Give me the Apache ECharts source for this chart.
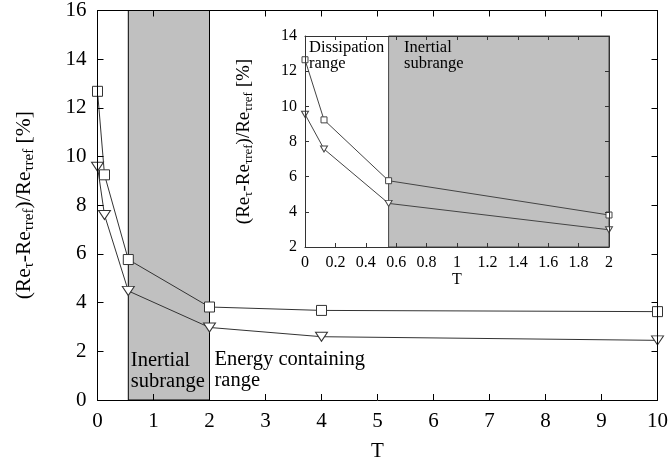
<!DOCTYPE html>
<html>
<head>
<meta charset="utf-8">
<script src="https://cdn.jsdelivr.net/npm/echarts@6/dist/echarts.min.js"></script>
<style>html,body{margin:0;padding:0;background:#fff}#c{width:671px;height:468px}</style>
</head>
<body>
<div id="c"></div>
<script>
// data
const T = [0, 0.125, 0.55, 2, 4, 10];
const squareVals = [12.68, 9.25, 5.77, 3.82, 3.68, 3.63];
const triangleVals = [9.58, 7.6, 4.48, 2.98, 2.6, 2.45];
const insetT = [0, 0.125, 0.55, 2];
const insetSquare = [12.65, 9.23, 5.77, 3.82];
const insetTriangle = [9.55, 7.57, 4.48, 2.98];
const inertialStart = 0.55, inertialEnd = 2;
const mainXTicks = {min: 0, max: 10, interval: 1};
const mainYTicks = {min: 0, max: 16, interval: 2};
const insetXTicks = {min: 0, max: 2, interval: 0.2};
const insetYTicks = {min: 2, max: 14, interval: 2};

const FONT = 'Liberation Serif';
const lineCol = '#333';
const grey = '#c0c0c0';

function pairs(xs, ys){ return xs.map((x,i)=>[x, ys[i]]); }

function yName(size, sub){
  return {
    fontFamily: FONT, fontSize: size, color: '#000',
    rich: {
      n: {fontFamily: FONT, fontSize: size, color: '#000'},
      s: {fontFamily: FONT, fontSize: sub, color: '#000', padding: [Math.round(size*0.45),0,0,0]}
    }
  };
}
const yNameStr = '{n|(Re}{s|τ}{n|-Re}{s|τref}{n|)/Re}{s|τref}{n| [%]}';

function axisCommon(fs, col, tickLen, margin){
  return {
    axisLine: {show: true, onZero: false, lineStyle: {color: col, width: 1}},
    axisTick: {show: true, inside: true, length: tickLen, lineStyle: {color: col}},
    axisLabel: {fontFamily: FONT, fontSize: fs, color: '#000', margin: margin},
    splitLine: {show: false},
    z: 10
  };
}

const chart = echarts.init(document.getElementById('c'));
chart.setOption({
  backgroundColor: '#fff',
  animation: false,
  textStyle: {fontFamily: FONT},
  grid: [
    {left: 97.5, right: 12, top: 9, bottom: 68},
    {left: 305, right: 62, top: 36, bottom: 221}
  ],
  xAxis: [
    Object.assign(axisCommon(21, '#000', 6, 11), {type: 'value', gridIndex: 0, position: 'bottom', ...mainXTicks,
      name: 'T', nameLocation: 'middle', nameGap: 41,
      nameTextStyle: {fontFamily: FONT, fontSize: 21, color: '#000'}}),
    Object.assign(axisCommon(21, '#000', 6, 11), {type: 'value', gridIndex: 0, position: 'top', ...mainXTicks,
      axisLabel: {show: false}}),
    Object.assign(axisCommon(16, '#333', 4, 8), {type: 'value', gridIndex: 1, position: 'bottom', ...insetXTicks,
      name: 'T', nameLocation: 'middle', nameGap: 22,
      nameTextStyle: {fontFamily: FONT, fontSize: 16, color: '#000'}, z: 12}),
    Object.assign(axisCommon(16, '#333', 4, 8), {type: 'value', gridIndex: 1, position: 'top', ...insetXTicks,
      axisLabel: {show: false}, z: 12})
  ],
  yAxis: [
    Object.assign(axisCommon(21, '#000', 6, 11), {type: 'value', gridIndex: 0, position: 'left', ...mainYTicks,
      name: yNameStr, nameLocation: 'middle', nameRotate: 90, nameGap: 61,
      nameTextStyle: yName(21.5, 15)}),
    Object.assign(axisCommon(21, '#000', 6, 11), {type: 'value', gridIndex: 0, position: 'right', ...mainYTicks,
      axisLabel: {show: false}}),
    Object.assign(axisCommon(16, '#333', 4, 8), {type: 'value', gridIndex: 1, position: 'left', ...insetYTicks,
      name: yNameStr, nameLocation: 'middle', nameRotate: 90, nameGap: 50,
      nameTextStyle: yName(19, 13), z: 12}),
    Object.assign(axisCommon(16, '#333', 4, 8), {type: 'value', gridIndex: 1, position: 'right', ...insetYTicks,
      axisLabel: {show: false}, z: 12})
  ],
  series: [
    {
      type: 'line', xAxisIndex: 0, yAxisIndex: 0, data: pairs(T, squareVals),
      symbol: 'rect', symbolSize: 10, clip: false,
      lineStyle: {color: lineCol, width: 1},
      itemStyle: {color: '#fff', borderColor: lineCol, borderWidth: 1},
      z: 4,
      markArea: {
        silent: true,
        z: 1,
        data: [
          [{xAxis: inertialStart, itemStyle: {color: grey, borderColor: '#000', borderWidth: 1},
            label: {show: true, position: 'insideBottomLeft', formatter: 'Inertial\nsubrange', distance: 4,
              fontFamily: FONT, fontSize: 20.5, lineHeight: 21, color: '#000', offset: [-1, -4]}},
           {xAxis: inertialEnd}],
          [{xAxis: inertialEnd, itemStyle: {color: 'rgba(0,0,0,0)', borderWidth: 0},
            label: {show: true, position: 'insideBottomLeft', formatter: 'Energy containing\nrange', distance: 5,
              fontFamily: FONT, fontSize: 20.5, lineHeight: 21, color: '#000', offset: [0, -4]}},
           {xAxis: mainXTicks.max}]
        ]
      }
    },
    {
      type: 'line', xAxisIndex: 0, yAxisIndex: 0, data: pairs(T, triangleVals),
      symbol: 'triangle', symbolRotate: 180, symbolSize: [12, 9], clip: false,
      lineStyle: {color: lineCol, width: 1},
      itemStyle: {color: '#fff', borderColor: lineCol, borderWidth: 1},
      z: 4
    },
    {
      type: 'line', xAxisIndex: 2, yAxisIndex: 2, data: pairs(insetT, insetSquare),
      symbol: 'rect', symbolSize: 6, clip: false,
      lineStyle: {color: '#444', width: 1},
      itemStyle: {color: '#fff', borderColor: '#444', borderWidth: 1},
      z: 8,
      markArea: {
        silent: true,
        z: 2,
        data: [
          [{xAxis: insetXTicks.min, itemStyle: {color: 'rgba(0,0,0,0)', borderWidth: 0},
            label: {show: true, position: 'insideTopLeft', formatter: 'Dissipation\nrange', distance: 4,
              fontFamily: FONT, fontSize: 16.5, lineHeight: 16, color: '#000'}},
           {xAxis: inertialStart}],
          [{xAxis: inertialStart, itemStyle: {color: grey, borderColor: '#444', borderWidth: 1},
            label: {show: true, position: 'insideTopLeft', formatter: 'Inertial\nsubrange', distance: 4,
              fontFamily: FONT, fontSize: 16.5, lineHeight: 16, color: '#000', offset: [12, 0]}},
           {xAxis: insetXTicks.max}]
        ]
      }
    },
    {
      type: 'line', xAxisIndex: 2, yAxisIndex: 2, data: pairs(insetT, insetTriangle),
      symbol: 'triangle', symbolRotate: 180, symbolSize: [7, 6], clip: false,
      lineStyle: {color: '#444', width: 1},
      itemStyle: {color: '#fff', borderColor: '#444', borderWidth: 1},
      z: 8
    }
  ]
});
</script>
</body>
</html>
